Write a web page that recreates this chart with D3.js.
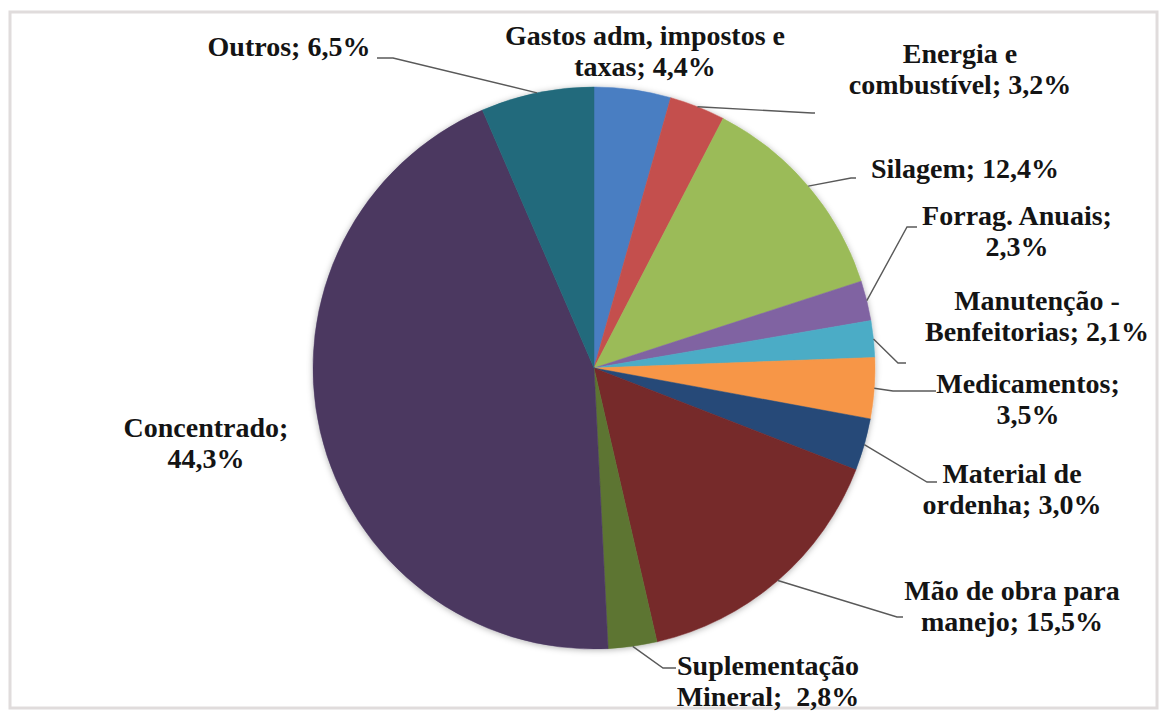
<!DOCTYPE html>
<meta charset="utf-8">
<script src="https://d3js.org/d3.v7.min.js"></script>
<style>
  body { margin: 0; background: #fff; }
  text { font-family: "Liberation Serif", "Times New Roman", serif; font-weight: bold; fill: #141414; }
</style>
<div id="my_dataviz"></div>
<script>

// categories and shares (%), clockwise from 12 o'clock
var categories = ["Gastos adm, impostos e taxas", "Energia e combustível", "Silagem", "Forrag. Anuais",
  "Manutenção - Benfeitorias", "Medicamentos", "Material de ordenha", "Mão de obra para manejo",
  "Suplementação Mineral", "Concentrado", "Outros"];
var values = [4.4, 3.2, 12.4, 2.3, 2.1, 3.5, 3.0, 15.5, 2.8, 44.3, 6.5];
// label text as printed (line breaks)
var labelLines = [
  ["Gastos adm, impostos e", "taxas; 4,4%"],
  ["Energia e", "combustível; 3,2%"],
  ["Silagem; 12,4%"],
  ["Forrag. Anuais;", "2,3%"],
  ["Manutenção -", "Benfeitorias; 2,1%"],
  ["Medicamentos;", "3,5%"],
  ["Material de", "ordenha; 3,0%"],
  ["Mão de obra para", "manejo; 15,5%"],
  ["Suplementação", "Mineral;  2,8%"],
  ["Concentrado;", "44,3%"],
  ["Outros; 6,5%"]
];
var colors = ["#4a7ec2", "#c4504d", "#9bbb59", "#8064a2", "#4bacc6", "#f79646",
  "#264a78", "#76292a", "#5d7432", "#4b3861", "#216a7b"];

// label layout: centre x, first baseline y, leader elbow and end (null = no leader)
var layout = [
  {x: 645, y: 45, elbow: null},
  {x: 960, y: 63, elbow: [812, 113], end: [815, 113]},
  {x: 965, y: 178, elbow: [851, 178], end: [856, 178]},
  {x: 1017, y: 225, elbow: [907, 227], end: [917, 227]},
  {x: 1037, y: 310, elbow: [898, 363], end: [906, 363]},
  {x: 1028, y: 393, elbow: [893, 391], end: [936, 391]},
  {x: 1012, y: 483, elbow: [927, 482], end: [937, 482]},
  {x: 1012, y: 600, elbow: [897, 617], end: [903, 617]},
  {x: 768, y: 675, elbow: [663, 668], end: [676, 668]},
  {x: 206, y: 437, elbow: null},
  {x: 289, y: 56, elbow: [393, 58], end: [377, 58]}
];

var width = 1160, height = 717;
var cx = 594, cy = 368, radius = 281;
var lineHeight = 31;

var svg = d3.select("#my_dataviz")
  .append("svg")
    .attr("width", width)
    .attr("height", height);

// soft shadow under the pie
var defs = svg.append("defs");
var f = defs.append("filter").attr("id", "shadow")
  .attr("x", "-10%").attr("y", "-10%").attr("width", "120%").attr("height", "120%");
f.append("feDropShadow").attr("dx", 0).attr("dy", 1).attr("stdDeviation", 3)
  .attr("flood-color", "#000").attr("flood-opacity", 0.3);

// frame
svg.append("rect")
  .attr("x", 10).attr("y", 12)
  .attr("width", 1147).attr("height", 696)
  .attr("fill", "none")
  .attr("stroke", "#e0dcdc")
  .attr("stroke-width", 3);

var data = categories.map(function(c, i) { return {name: c, value: values[i], lines: labelLines[i], pos: layout[i], color: colors[i]}; });

var pie = d3.pie()
  .sort(null)
  .value(function(d) { return d.value; });

var arc = d3.arc().innerRadius(0).outerRadius(radius);

var arcs = pie(data);

var g = svg.append("g").attr("transform", "translate(" + cx + "," + cy + ")");

g.append("g").attr("filter", "url(#shadow)")
  .selectAll("path")
  .data(arcs)
  .enter()
  .append("path")
    .attr("d", arc)
    .attr("fill", function(d) { return d.data.color; })
    .attr("stroke", function(d) { return d.data.color; })
    .attr("stroke-width", 0.5);

// leader lines from the slice mid-angle on the rim
svg.append("g")
  .selectAll("polyline")
  .data(arcs.filter(function(d) { return d.data.pos.elbow; }))
  .enter()
  .append("polyline")
    .attr("points", function(d) {
      var a = (d.startAngle + d.endAngle) / 2;
      var sx = cx + radius * Math.sin(a), sy = cy - radius * Math.cos(a);
      return [[sx, sy], d.data.pos.elbow, d.data.pos.end].map(function(p) { return p.join(","); }).join(" ");
    })
    .attr("fill", "none")
    .attr("stroke", "#595959")
    .attr("stroke-width", 1.4);

// labels
var labels = svg.append("g")
  .selectAll("text")
  .data(data)
  .enter()
  .append("text")
    .attr("text-anchor", "middle")
    .style("font-size", "28px")
    .attr("x", function(d) { return d.pos.x; })
    .attr("y", function(d) { return d.pos.y; });

labels.selectAll("tspan")
  .data(function(d) { return d.lines.map(function(l) { return {t: l, x: d.pos.x}; }); })
  .enter()
  .append("tspan")
    .attr("x", function(d) { return d.x; })
    .attr("dy", function(d, i) { return i === 0 ? 0 : lineHeight; })
    .attr("xml:space", "preserve")
    .style("white-space", "pre")
    .text(function(d) { return d.t; });

</script>
